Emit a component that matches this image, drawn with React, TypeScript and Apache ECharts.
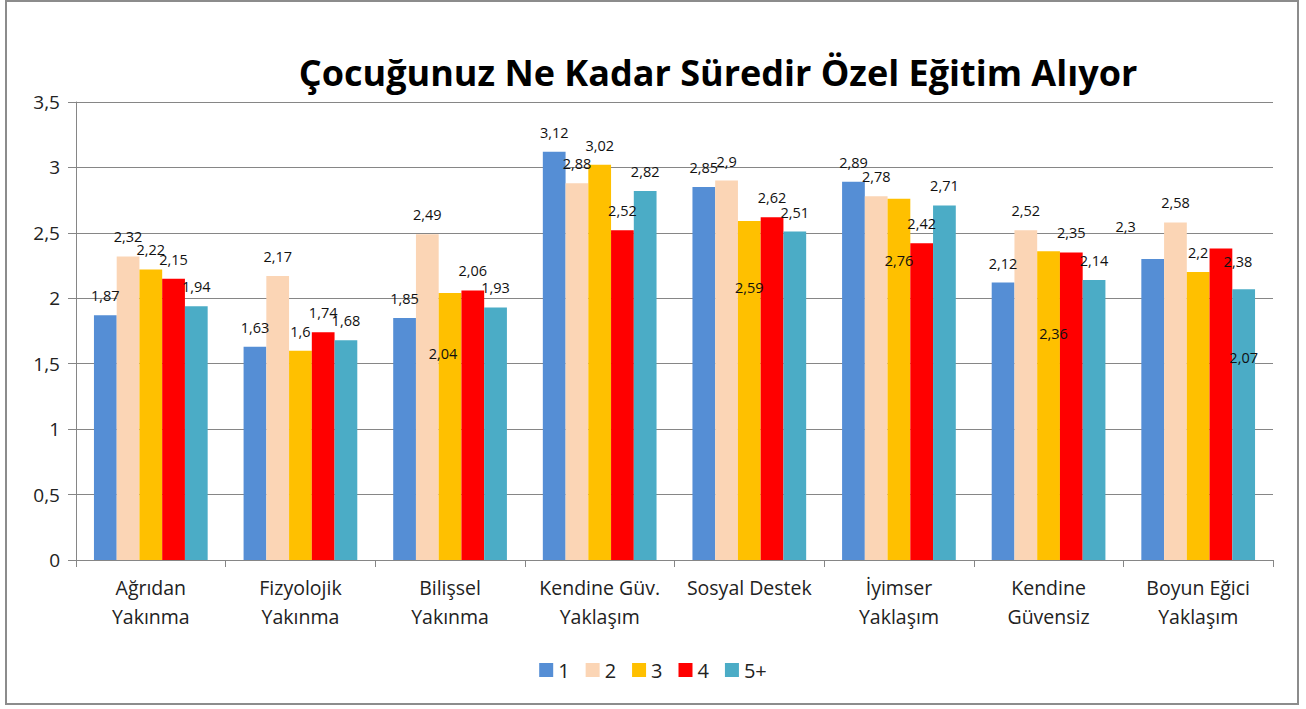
import React, { useEffect, useRef } from "react";
import * as echarts from "echarts";

const titleText = "Çocuğunuz Ne Kadar Süredir Özel Eğitim Alıyor";
const categories = [
  "Ağrıdan\nYakınma",
  "Fizyolojik\nYakınma",
  "Bilişsel\nYakınma",
  "Kendine Güv.\nYaklaşım",
  "Sosyal Destek",
  "İyimser\nYaklaşım",
  "Kendine\nGüvensiz",
  "Boyun Eğici\nYaklaşım",
];
const seriesNames = ["1", "2", "3", "4", "5+"];
const s1 = [1.87, 1.63, 1.85, 3.12, 2.85, 2.89, 2.12, 2.3];
const s2 = [2.32, 2.17, 2.49, 2.88, 2.9, 2.78, 2.52, 2.58];
const s3 = [2.22, 1.6, 2.04, 3.02, 2.59, 2.76, 2.36, 2.2];
const s4 = [2.15, 1.74, 2.06, 2.52, 2.62, 2.42, 2.35, 2.38];
const s5 = [1.94, 1.68, 1.93, 2.82, 2.51, 2.71, 2.14, 2.07];
const seriesValues = [s1, s2, s3, s4, s5];
const colors = ["#558ED5", "#FBD5B5", "#FFC000", "#FF0000", "#4BACC6"];

// manual label displacements (series index, category index) -> [dx, dy]
const labelShifts: Record<string, [number, number]> = {
  "2-2": [-7, 80],
  "2-4": [0, 86],
  "2-5": [0, 81],
  "2-6": [5, 102],
  "0-7": [-27, -13],
  "3-7": [17, 32],
  "4-7": [0, 88],
};

const fmt = (v: number) => String(v).replace(".", ",");
const FONT = "Open Sans";

export default function App() {
  const ref = useRef<HTMLDivElement>(null);
  useEffect(() => {
    if (!ref.current) return;
    const chart = echarts.init(ref.current, null, { renderer: "svg" });
    chart.setOption({
      animation: false,
      backgroundColor: "#ffffff",
      textStyle: { fontFamily: FONT },
      graphic: [
        {
          type: "rect",
          shape: { x: 6, y: 1, width: 1292, height: 703 },
          style: { fill: "none", stroke: "#8c8c8c", lineWidth: 2 },
          silent: true,
        },
        {
          type: "text",
          x: 718,
          y: 72,
          style: {
            text: titleText,
            fill: "#000000",
            font: `bold 36px "${FONT}"`,
            textAlign: "center",
            textVerticalAlign: "middle",
          },
        },
      ],
      legend: {
        bottom: 24,
        left: "center",
        itemWidth: 14,
        itemHeight: 14,
        itemGap: 16,
        icon: "rect",
        data: seriesNames,
        textStyle: { fontSize: 20, color: "#222", fontFamily: FONT },
      },
      grid: { left: 76, right: 33, top: 102, bottom: 149, containLabel: false },
      xAxis: {
        type: "category",
        data: categories,
        axisLine: { lineStyle: { color: "#868686", width: 1 } },
        axisTick: { show: true, length: 7, lineStyle: { color: "#868686" } },
        axisLabel: {
          fontSize: 19.5,
          color: "#222",
          lineHeight: 29,
          margin: 13,
          interval: 0,
          fontFamily: FONT,
        },
      },
      yAxis: {
        type: "value",
        min: 0,
        max: 3.5,
        interval: 0.5,
        axisLine: { show: true, lineStyle: { color: "#868686" } },
        axisTick: { show: true, length: 8, lineStyle: { color: "#868686" } },
        splitLine: { lineStyle: { color: "#868686", width: 1 } },
        axisLabel: {
          fontSize: 19,
          color: "#222",
          margin: 16,
          fontFamily: FONT,
          formatter: (v: number) => fmt(v),
        },
      },
      series: seriesValues.map((vals, si) => ({
        name: seriesNames[si],
        type: "bar",
        barGap: "0%",
        barCategoryGap: "24%",
        itemStyle: { color: colors[si] },
        label: {
          show: true,
          position: "top",
          distance: 12,
          fontSize: 14.5,
          color: "#111",
          fontFamily: FONT,
          formatter: (p: any) => fmt(p.value),
        },
        data: vals.map((v, ci) => {
          const sh = labelShifts[`${si}-${ci}`];
          return sh ? { value: v, label: { offset: sh } } : v;
        }),
      })),
    });
    return () => chart.dispose();
  }, []);
  return (
    <div
      ref={ref}
      style={{ position: "fixed", left: 0, top: 0, width: 1306, height: 709 }}
    />
  );
}
